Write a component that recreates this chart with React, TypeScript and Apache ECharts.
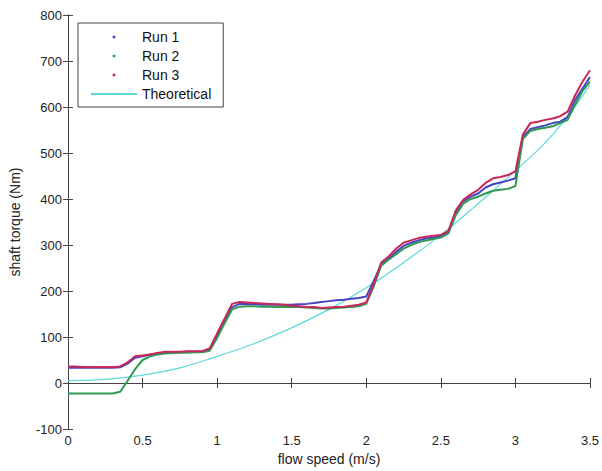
import React, { useEffect, useRef } from "react";
import * as echarts from "echarts";

const xs = [
  0, 0.05, 0.1, 0.15, 0.2, 0.25, 0.3, 0.35, 0.4, 0.45,
  0.5, 0.55, 0.6, 0.65, 0.7, 0.75, 0.8, 0.85, 0.9, 0.95,
  1.0, 1.05, 1.1, 1.15, 1.2, 1.25, 1.3, 1.35, 1.4, 1.45,
  1.5, 1.55, 1.6, 1.65, 1.7, 1.75, 1.8, 1.85, 1.9, 1.95,
  2.0, 2.05, 2.1, 2.15, 2.2, 2.25, 2.3, 2.35, 2.4, 2.45,
  2.5, 2.55, 2.6, 2.65, 2.7, 2.75, 2.8, 2.85, 2.9, 2.95,
  3.0, 3.05, 3.1, 3.15, 3.2, 3.25, 3.3, 3.35, 3.4, 3.45, 3.5,
];

const run1 = [
  33, 33, 33, 33, 33, 33, 33, 34, 42, 55,
  58, 62, 64, 66, 67, 67, 68, 68, 68, 72,
  102, 135, 165, 172, 172, 171, 170, 170, 170, 170,
  170, 171, 172, 174, 176, 178, 180, 181, 183, 185,
  188, 222, 258, 270, 285, 298, 305, 310, 314, 316,
  320, 328, 370, 395, 405, 412, 425, 432, 436, 440,
  445, 535, 552, 556, 560, 565, 568, 578, 615, 640, 665,
];

const run2 = [
  -23, -23, -23, -23, -23, -23, -23, -19, 5, 30,
  50, 58, 62, 64, 65, 66, 66, 67, 67, 70,
  98, 130, 160, 166, 167, 167, 166, 166, 165, 165,
  165, 165, 164, 163, 162, 162, 163, 164, 165, 167,
  172, 210, 255, 268, 280, 292, 300, 306, 310, 313,
  316, 325, 365, 390, 400, 405, 412, 418, 420, 422,
  428, 530, 548, 552, 555, 558, 565, 572, 605, 635, 655,
];

const run3 = [
  36, 36, 35, 35, 35, 35, 35, 36, 45, 58,
  60, 62, 65, 68, 68, 68, 69, 69, 69, 75,
  108, 140, 172, 176, 175, 174, 173, 172, 171, 170,
  168, 167, 165, 165, 163, 164, 165, 166, 168, 170,
  175, 215, 262, 275, 292, 305, 310, 315, 318, 320,
  322, 330, 375, 398, 410, 420, 435, 445, 448, 452,
  460, 540, 565, 568, 572, 575, 580, 590, 625, 655, 680,
];

const theoX = [0, 0.25, 0.5, 0.75, 1.0, 1.25, 1.5, 1.75, 2.0, 2.25, 2.5, 2.75, 3.0, 3.25, 3.5];
const theoY = [5, 8, 17, 33, 58, 86, 120, 160, 207, 262, 322, 390, 462, 540, 648];

const seriesNames = ["Run 1", "Run 2", "Run 3", "Theoretical"];
const FONT = "Liberation Sans, Arial, Helvetica, sans-serif";

export default function App() {
  const ref = useRef<HTMLDivElement>(null);

  useEffect(() => {
    if (!ref.current) return;
    const chart = echarts.init(ref.current, undefined, { renderer: "svg" });

    const axisLine = { show: true, lineStyle: { color: "#444", width: 1 } };
    const tick = { show: true, inside: true, length: 5, lineStyle: { color: "#444" } };

    const runSeries = (name: string, vals: number[], color: string) => ({
      name,
      type: "line",
      data: xs.map((x, i) => [x, vals[i]]),
      showSymbol: false,
      symbol: "circle",
      symbolSize: 3,
      lineStyle: { color, width: 2 },
      itemStyle: { color },
      xAxisIndex: 0,
      yAxisIndex: 0,
    });

    chart.setOption({
      animation: false,
      backgroundColor: "#fff",
      textStyle: { fontFamily: FONT },
      grid: { left: 68, right: 9, top: 15, bottom: 40, containLabel: false },
      legend: {
        orient: "vertical",
        left: 78,
        top: 23,
        padding: [7, 12, 6, 12],
        itemWidth: 46,
        itemHeight: 3,
        itemGap: 5,
        backgroundColor: "#fff",
        borderColor: "#444",
        borderWidth: 1,
        borderRadius: 0,
        textStyle: { fontSize: 14, color: "#111", fontFamily: FONT },
        data: [
          { name: seriesNames[0], icon: "circle" },
          { name: seriesNames[1], icon: "circle" },
          { name: seriesNames[2], icon: "circle" },
          { name: seriesNames[3] },
        ],
      },
      xAxis: [
        {
          type: "value",
          min: 0,
          max: 3.5,
          interval: 0.5,
          position: "bottom",
          axisLine,
          axisTick: tick,
          splitLine: { show: false },
          axisLabel: { fontSize: 13, color: "#222", margin: 5, fontFamily: FONT },
          name: "flow speed (m/s)",
          nameLocation: "middle",
          nameGap: 23,
          nameTextStyle: { fontSize: 14, color: "#222", fontFamily: FONT },
        },
        {
          type: "value",
          min: 0,
          max: 3.5,
          interval: 0.5,
          position: "top",
          axisLine,
          axisTick: tick,
          splitLine: { show: false },
          axisLabel: { show: false },
        },
      ],
      yAxis: [
        {
          type: "value",
          min: -100,
          max: 800,
          interval: 100,
          position: "left",
          axisLine,
          axisTick: tick,
          splitLine: { show: false },
          axisLabel: { fontSize: 13, color: "#222", margin: 6, fontFamily: FONT },
          name: "shaft torque (Nm)",
          nameLocation: "middle",
          nameGap: 46,
          nameTextStyle: { fontSize: 14, color: "#222", fontFamily: FONT },
        },
        {
          type: "value",
          min: -100,
          max: 800,
          interval: 100,
          position: "right",
          axisLine,
          axisTick: tick,
          splitLine: { show: false },
          axisLabel: { show: false },
        },
      ],
      series: [
        runSeries(seriesNames[0], run1, "#4646c4"),
        runSeries(seriesNames[1], run2, "#2f9a52"),
        runSeries(seriesNames[2], run3, "#c8285a"),
        {
          name: seriesNames[3],
          type: "line",
          data: theoX.map((x, i) => [x, theoY[i]]),
          smooth: true,
          symbol: "none",
          showSymbol: false,
          lineStyle: { color: "#5ed8d8", width: 1.2 },
          itemStyle: { color: "#5ed8d8" },
          z: 1,
        },
      ],
    });

    return () => chart.dispose();
  }, []);

  return (
    <div
      ref={ref}
      style={{ position: "fixed", left: 0, top: 0, width: 602, height: 471, background: "#fff" }}
    />
  );
}
